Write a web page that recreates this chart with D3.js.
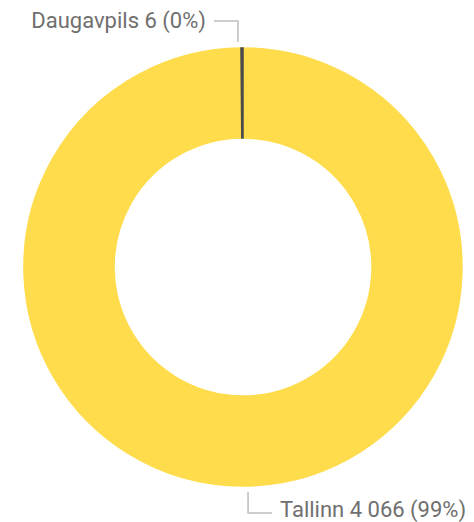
<!DOCTYPE html>
<html>
<head>
    <meta charset="utf-8">
    <title>Donut</title>
    <script src="https://d3js.org/d3.v7.min.js"></script>
    <style>
        body { margin: 0; padding: 0; background: #fff; }
        text { font-family: Roboto, "Noto Sans", sans-serif; }
    </style>
</head>
<body>
    <div id="chart"></div>

    <script>
// Data
const categories = ["Tallinn", "Daugavpils"];
const values = [4066, 6];
const colors = ["#FEDC4C", "#4B4B4B"];

const width = 474;
const height = 522;
const cx = 243;
const cy = 267;
const outerR = 219;
const innerR = 129;

const total = d3.sum(values);
const fmt = d3.formatLocale({ decimal: ",", thousands: "\u00a0", grouping: [3], currency: ["", "€"] }).format(",d");

const svg = d3.select("#chart")
  .append("svg")
    .attr("width", width)
    .attr("height", height);

const g = svg.append("g")
    .attr("transform", `translate(${cx}, ${cy})`);

const pie = d3.pie().sort(null);
const data_ready = pie(values);

const arcGenerator = d3.arc()
  .innerRadius(innerR)
  .outerRadius(outerR);

g.selectAll("path.slice")
  .data(data_ready)
  .join("path")
    .attr("class", "slice")
    .attr("d", arcGenerator)
    .attr("fill", (d, i) => colors[i])
    .attr("stroke", (d, i) => colors[i])
    .style("stroke-width", "1.5px");

// labels with elbow lines
data_ready.forEach((d, i) => {
  const a = (d.startAngle + d.endAngle) / 2;
  const top = Math.cos(a) > 0;
  const dx = top ? -4 : 4;
  const x0 = Math.sin(a) * (outerR + 6) + dx;
  const y0 = -Math.cos(a) * (outerR + 6);
  const y1 = y0 + (top ? -21 : 21);
  const dir = top ? -1 : 1;
  const x2 = x0 + dir * 24;

  g.append("path")
    .attr("d", `M${x0},${y0}V${y1}H${x2}`)
    .attr("fill", "none")
    .attr("stroke", "#bdbdbd")
    .attr("stroke-width", 1.5);

  const pct = Math.floor(values[i] / total * 100);
  g.append("text")
    .attr("x", x2 + dir * 8)
    .attr("y", y1 + (top ? 7 : 4))
    .attr("text-anchor", dir < 0 ? "end" : "start")
    .attr("fill", "#6f6f6f")
    .style("font-size", "22px")
    .text(`${categories[i]} ${fmt(values[i])} (${pct}%)`);
});
    </script>
</body>
</html>
